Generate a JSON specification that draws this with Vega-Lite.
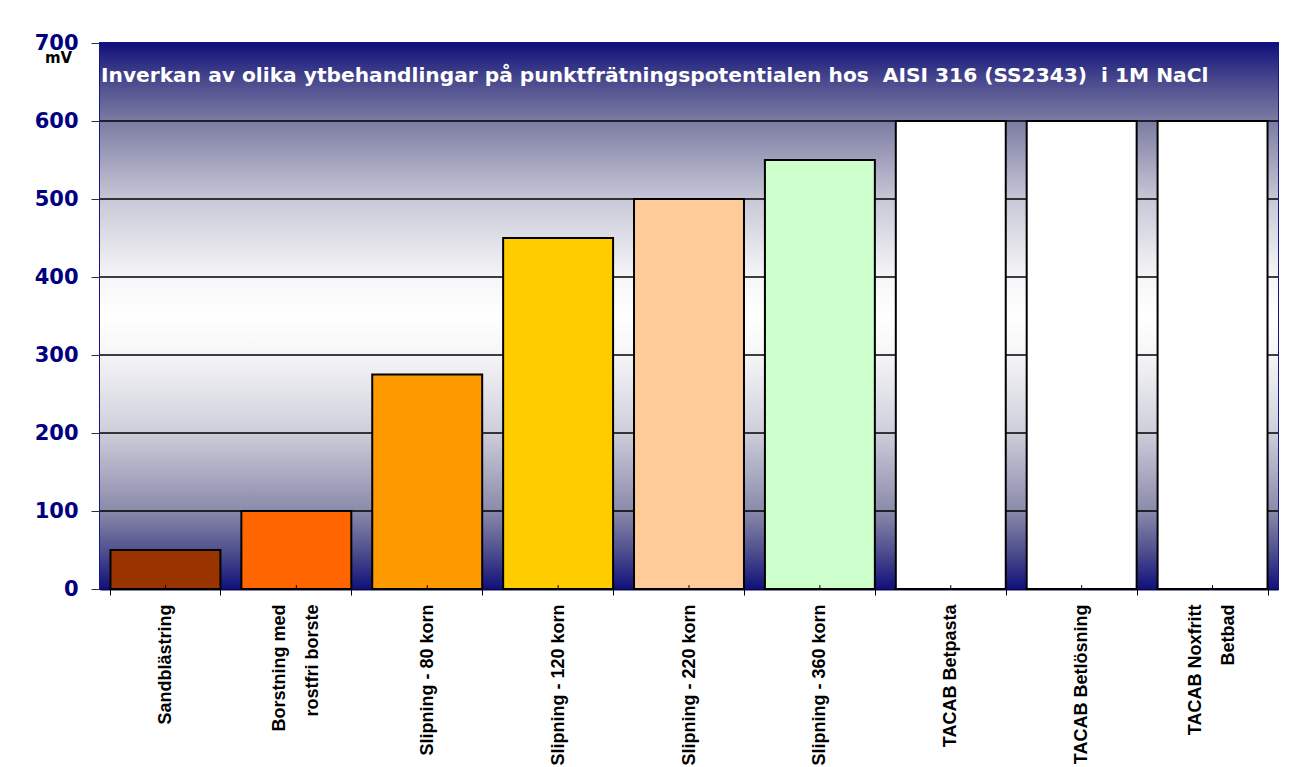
{
  "$schema": "https://vega.github.io/schema/vega-lite/v6.json",
  "autosize": "none",
  "width": 1178,
  "height": 546,
  "padding": {"left": 100, "top": 43, "right": 23, "bottom": 178},
  "background": "#ffffff",
  "title": {
    "text": "Inverkan av olika ytbehandlingar på punktfrätningspotentialen hos\u00a0 AISI 316 (SS2343)\u00a0 i 1M NaCl",
    "anchor": "start",
    "frame": "group",
    "orient": "top",
    "baseline": "alphabetic",
    "offset": -40,
    "dy": 30,
    "dx": 1,
    "font": "DejaVu Sans",
    "fontSize": 20.2,
    "fontWeight": "bold",
    "color": "#ffffff"
  },
  "datasets": {
    "bars": [
      {"Behandling": "Sandblästring", "mV": 50},
      {"Behandling": "Borstning med\nrostfri borste", "mV": 100},
      {"Behandling": "Slipning - 80 korn", "mV": 275},
      {"Behandling": "Slipning - 120 korn", "mV": 450},
      {"Behandling": "Slipning - 220 korn", "mV": 500},
      {"Behandling": "Slipning - 360 korn", "mV": 550},
      {"Behandling": "TACAB Betpasta", "mV": 600},
      {"Behandling": "TACAB Betlösning", "mV": 600},
      {"Behandling": "TACAB Noxfritt\nBetbad", "mV": 600}
    ],
    "grid": [
      {"mV": 100}, {"mV": 200}, {"mV": 300}, {"mV": 400}, {"mV": 500}, {"mV": 600}
    ],
    "frame": [
      {"lo": 0, "hi": 700}
    ]
  },
  "layer": [
    {
      "data": {"name": "frame"},
      "mark": {
        "type": "rect",
        "fill": {
          "gradient": "linear",
          "x1": 0, "y1": 0, "x2": 0, "y2": 1,
          "stops": [
            {"offset": 0, "color": "#10107a"},
            {"offset": 0.07, "color": "#4a4a8e"},
            {"offset": 0.143, "color": "#7c7ca3"},
            {"offset": 0.29, "color": "#c9c9d8"},
            {"offset": 0.43, "color": "#f6f6f8"},
            {"offset": 0.5, "color": "#ffffff"},
            {"offset": 0.57, "color": "#f6f6f8"},
            {"offset": 0.71, "color": "#cfcfdc"},
            {"offset": 0.857, "color": "#8a8aab"},
            {"offset": 0.93, "color": "#50508f"},
            {"offset": 1, "color": "#10107a"}
          ]
        }
      },
      "encoding": {
        "y": {"field": "lo", "type": "quantitative", "scale": {"domain": [0, 700]}},
        "y2": {"field": "hi"}
      }
    },
    {
      "data": {"name": "grid"},
      "mark": {"type": "rule", "color": "#000000", "strokeWidth": 1.3},
      "encoding": {
        "y": {"field": "mV", "type": "quantitative"}
      }
    },
    {
      "data": {"name": "bars"},
      "mark": {"type": "bar", "stroke": "#000000", "strokeWidth": 2, "strokeJoin": "miter"},
      "encoding": {
        "x": {
          "field": "Behandling",
          "type": "nominal",
          "sort": null,
          "scale": {"paddingInner": 0.16, "paddingOuter": 0.08},
          "axis": {
            "title": null,
            "labelAngle": -90,
            "labelExpr": "split(datum.label, '\\n')",
            "labelFont": "Liberation Sans",
            "labelFontSize": 18,
            "labelFontWeight": "bold",
            "labelColor": "#000000",
            "labelLineHeight": 33,
            "labelPadding": 9,
            "labelLimit": 400,
            "labelOffset": {"expr": "length(split(datum.value, '\\n')) > 1 ? -17 : 0"},
            "tickBand": "extent",
            "tickSize": 6,
            "tickColor": "#000000",
            "domainColor": "#0a0a50",
            "domainWidth": 2
          }
        },
        "y": {
          "field": "mV",
          "type": "quantitative",
          "scale": {"domain": [0, 700]},
          "axis": {
            "values": [0, 100, 200, 300, 400, 500, 600, 700],
            "grid": false,
            "title": "mV",
            "titleAngle": 0,
            "titleX": -42,
            "titleY": 19,
            "titleAlign": "center",
            "titleBaseline": "alphabetic",
            "titleFont": "DejaVu Sans",
            "titleFontSize": 15,
            "titleFontWeight": "bold",
            "titleColor": "#000000",
            "labelFont": "DejaVu Sans",
            "labelFontSize": 21,
            "labelFontWeight": "bold",
            "labelColor": "#000080",
            "labelPadding": 13,
            "tickSize": 9,
            "tickColor": "#333333",
            "domainColor": "#14148c",
            "domainWidth": 2
          }
        },
        "color": {
          "field": "Behandling",
          "type": "nominal",
          "legend": null,
          "scale": {
            "domain": ["Sandblästring", "Borstning med\nrostfri borste", "Slipning - 80 korn", "Slipning - 120 korn", "Slipning - 220 korn", "Slipning - 360 korn", "TACAB Betpasta", "TACAB Betlösning", "TACAB Noxfritt\nBetbad"],
            "range": ["#993300", "#ff6600", "#ff9900", "#ffcc00", "#ffcc99", "#ccffcc", "#ffffff", "#ffffff", "#ffffff"]
          }
        }
      }
    },
    {
      "data": {"name": "bars"},
      "mark": {"type": "rule", "color": "#000000", "strokeWidth": 1},
      "encoding": {
        "x": {"field": "Behandling", "type": "nominal", "sort": null},
        "y": {"datum": 0, "type": "quantitative"},
        "y2": {"datum": 5}
      }
    }
  ],
  "config": {
    "view": {"stroke": "#14148c", "strokeWidth": 2}
  }
}
